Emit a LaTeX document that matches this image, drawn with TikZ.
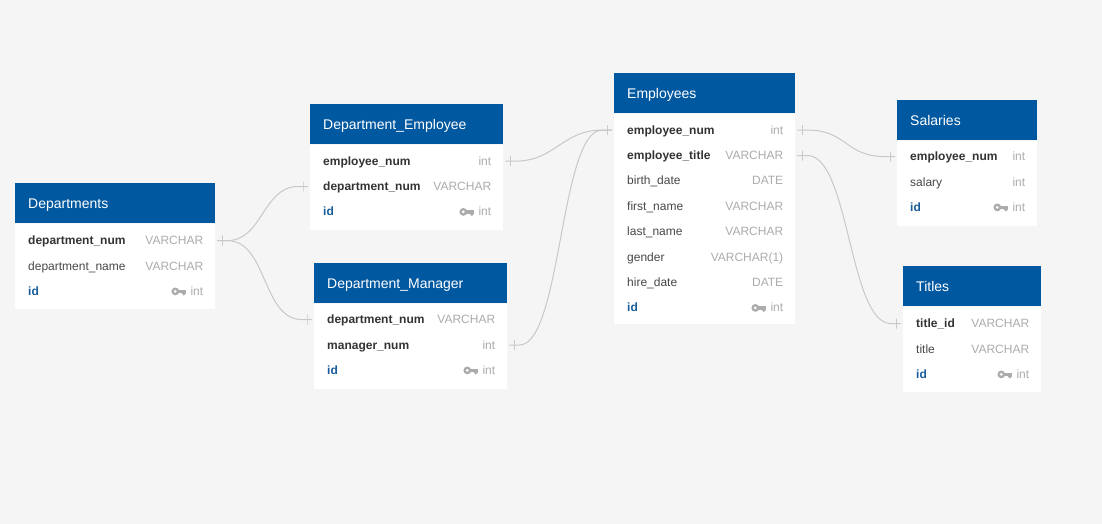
\documentclass[tikz,border=0pt]{standalone}
\usepackage{fontspec}
\setmainfont{Liberation Sans}
\usetikzlibrary{positioning}
\definecolor{hdrblue}{RGB}{0,88,160}
\definecolor{bggray}{RGB}{245,245,245}
\definecolor{linkgray}{RGB}{200,200,200}
\definecolor{typegray}{RGB}{172,172,172}
\definecolor{namegray}{RGB}{72,72,72}
\definecolor{keygray}{RGB}{51,51,51}
\definecolor{idblue}{RGB}{24,92,156}
\tikzstyle{header} = [rectangle, fill=hdrblue, text=white, anchor=north west, minimum height=40pt, inner xsep=13pt, inner ysep=0pt, text height=12pt, text depth=1pt, align=left, font=\fontsize{14}{16}\selectfont]
\tikzstyle{body} = [rectangle, fill=white, inner sep=0pt]
\tikzstyle{field} = [rectangle, inner xsep=13pt, inner ysep=0pt, minimum height=25pt, text height=10pt, text depth=2pt, align=left, text=namegray, font=\fontsize{12}{14}\selectfont]
\tikzstyle{keyfield} = [field, text=keygray, font=\fontsize{12}{14}\selectfont\bfseries]
\tikzstyle{idfield} = [field, text=idblue, font=\fontsize{12}{14}\selectfont\bfseries]
\tikzstyle{ftype} = [inner sep=0pt, text height=10pt, text depth=2pt, text=typegray, font=\fontsize{12}{14}\selectfont]
\tikzstyle{link} = [draw=linkgray, line width=1pt]
\tikzstyle{tick} = [rectangle, draw=linkgray, line width=1pt, inner sep=0pt, minimum width=0pt, minimum height=10pt]
\tikzset{keyicon/.pic={
  \fill[typegray] (-15,0) circle (3.9pt);
  \fill[white] (-15,0) circle (1.5pt);
  \fill[typegray] (-12,-1.6) rectangle (-4,1.6);
  \fill[typegray] (-9,1.6) -- (-4,1.6) -- (-6.5,4.2) -- cycle;
}}

\begin{document}
\begin{tikzpicture}[x=1pt,y=-1pt]
\fill[bggray] (0,0) rectangle (1102,524);

% Departments
\node [header, text width=174pt] (dep_hdr) at (15,183) {Departments};
\node [body, minimum width=200pt, minimum height=85pt, below=0pt of dep_hdr] (dep_body) {};
\node [keyfield, text width=174pt, below=4.5pt of dep_body.north] (dep_num) {department\_num};
\node [field, text width=174pt, below=0pt of dep_num] (dep_name) {department\_name};
\node [idfield, text width=174pt, below=0pt of dep_name] (dep_id) {id};
\node [ftype, left=12pt of dep_num.east] (dep_numt) {VARCHAR};
\node [ftype, left=12pt of dep_name.east] (dep_namet) {VARCHAR};
\node [ftype, left=12pt of dep_id.east] (dep_idt) {int};
\pic at (dep_idt.west) {keyicon};

% Department_Employee
\node [header, text width=167pt] (de_hdr) at (310,104) {Department\_Employee};
\node [body, minimum width=193pt, minimum height=85pt, below=0pt of de_hdr] (de_body) {};
\node [keyfield, text width=167pt, below=4pt of de_body.north] (de_emp) {employee\_num};
\node [keyfield, text width=167pt, below=0pt of de_emp] (de_dep) {department\_num};
\node [idfield, text width=167pt, below=0pt of de_dep] (de_id) {id};
\node [ftype, left=12pt of de_emp.east] (de_empt) {int};
\node [ftype, left=12pt of de_dep.east] (de_dept) {VARCHAR};
\node [ftype, left=12pt of de_id.east] (de_idt) {int};
\pic at (de_idt.west) {keyicon};

% Department_Manager
\node [header, text width=167pt] (dm_hdr) at (314,263) {Department\_Manager};
\node [body, minimum width=193pt, minimum height=85pt, below=0pt of dm_hdr] (dm_body) {};
\node [keyfield, text width=167pt, below=3.5pt of dm_body.north] (dm_dep) {department\_num};
\node [keyfield, text width=167pt, below=0pt of dm_dep] (dm_mgr) {manager\_num};
\node [idfield, text width=167pt, below=0pt of dm_mgr] (dm_id) {id};
\node [ftype, left=12pt of dm_dep.east] (dm_dept) {VARCHAR};
\node [ftype, left=12pt of dm_mgr.east] (dm_mgrt) {int};
\node [ftype, left=12pt of dm_id.east] (dm_idt) {int};
\pic at (dm_idt.west) {keyicon};

% Employees
\node [header, text width=155pt] (emp_hdr) at (614,73) {Employees};
\node [body, minimum width=181pt, minimum height=210pt, below=0pt of emp_hdr] (emp_body) {};
\node [keyfield, text width=155pt, below=4pt of emp_body.north] (emp_num) {employee\_num};
\node [keyfield, text width=155pt, below=0pt of emp_num] (emp_title) {employee\_title};
\node [field, text width=155pt, below=0pt of emp_title] (emp_birth) {birth\_date};
\node [field, text width=155pt, below=0pt of emp_birth] (emp_first) {first\_name};
\node [field, text width=155pt, below=0pt of emp_first] (emp_last) {last\_name};
\node [field, text width=155pt, below=0pt of emp_last] (emp_gender) {gender};
\node [field, text width=155pt, below=0pt of emp_gender] (emp_hire) {hire\_date};
\node [idfield, text width=155pt, below=0pt of emp_hire] (emp_id) {id};
\node [ftype, left=12pt of emp_num.east] (emp_numt) {int};
\node [ftype, left=12pt of emp_title.east] (emp_titlet) {VARCHAR};
\node [ftype, left=12pt of emp_birth.east] (emp_birtht) {DATE};
\node [ftype, left=12pt of emp_first.east] (emp_firstt) {VARCHAR};
\node [ftype, left=12pt of emp_last.east] (emp_lastt) {VARCHAR};
\node [ftype, left=12pt of emp_gender.east] (emp_gendert) {VARCHAR(1)};
\node [ftype, left=12pt of emp_hire.east] (emp_hiret) {DATE};
\node [ftype, left=12pt of emp_id.east] (emp_idt) {int};
\pic at (emp_idt.west) {keyicon};

% Salaries
\node [header, text width=114pt] (sal_hdr) at (897,100) {Salaries};
\node [body, minimum width=140pt, minimum height=85pt, below=0pt of sal_hdr] (sal_body) {};
\node [keyfield, text width=114pt, below=3.5pt of sal_body.north] (sal_emp) {employee\_num};
\node [field, text width=114pt, below=0pt of sal_emp] (sal_sal) {salary};
\node [idfield, text width=114pt, below=0pt of sal_sal] (sal_id) {id};
\node [ftype, left=12pt of sal_emp.east] (sal_empt) {int};
\node [ftype, left=12pt of sal_sal.east] (sal_salt) {int};
\node [ftype, left=12pt of sal_id.east] (sal_idt) {int};
\pic at (sal_idt.west) {keyicon};

% Titles
\node [header, text width=112pt] (tit_hdr) at (903,266) {Titles};
\node [body, minimum width=138pt, minimum height=85pt, below=0pt of tit_hdr] (tit_body) {};
\node [keyfield, text width=112pt, below=4.5pt of tit_body.north] (tit_id) {title\_id};
\node [field, text width=112pt, below=0pt of tit_id] (tit_title) {title};
\node [idfield, text width=112pt, below=0pt of tit_title] (tit_key) {id};
\node [ftype, left=12pt of tit_id.east] (tit_idt) {VARCHAR};
\node [ftype, left=12pt of tit_title.east] (tit_titlet) {VARCHAR};
\node [ftype, left=12pt of tit_key.east] (tit_keyt) {int};
\pic at (tit_keyt.west) {keyicon};

% relations
\draw [link] ([xshift=2pt]dep_num.east) -- node[tick]{} ++(10,0) .. controls +(35,0) and +(-35,0) .. ([xshift=-12pt]de_dep.west) -- node[tick]{} ([xshift=-2pt]de_dep.west);
\draw [link] ([xshift=2pt]dep_num.east) -- node[tick]{} ++(10,0) .. controls +(40,0) and +(-40,0) .. ([xshift=-12pt]dm_dep.west) -- node[tick]{} ([xshift=-2pt]dm_dep.west);
\draw [link] ([xshift=2pt]de_emp.east) -- node[tick]{} ++(10,0) .. controls +(40,0) and +(-40,0) .. ([xshift=-12pt]emp_num.west) -- node[tick]{} ([xshift=-2pt]emp_num.west);
\draw [link] ([xshift=2pt]dm_mgr.east) -- node[tick]{} ++(10,0) .. controls +(42,0) and +(-42,0) .. ([xshift=-12pt]emp_num.west) -- node[tick]{} ([xshift=-2pt]emp_num.west);
\draw [link] ([xshift=2pt]emp_num.east) -- node[tick]{} ++(10,0) .. controls +(40,0) and +(-40,0) .. ([xshift=-12pt]sal_emp.west) -- node[tick]{} ([xshift=-2pt]sal_emp.west);
\draw [link] ([xshift=2pt]emp_title.east) -- node[tick]{} ++(10,0) .. controls +(42,0) and +(-42,0) .. ([xshift=-12pt]tit_id.west) -- node[tick]{} ([xshift=-2pt]tit_id.west);

\end{tikzpicture}
\end{document}
